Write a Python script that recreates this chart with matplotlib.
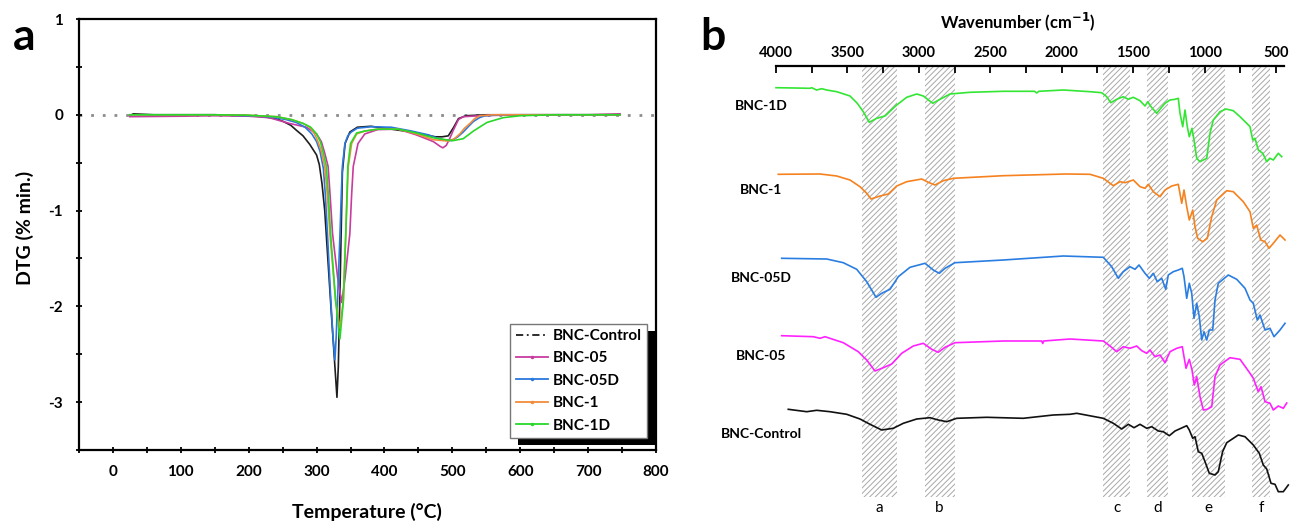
import matplotlib.pyplot as plt
from matplotlib.lines import Line2D
from matplotlib.patches import Rectangle
from matplotlib.ticker import MultipleLocator, FormatStrFormatter
from matplotlib.transforms import IdentityTransform

plt.rcParams['font.family'] = ['Lato', 'DejaVu Sans']
plt.rcParams['font.weight'] = 'bold'
plt.rcParams['axes.unicode_minus'] = False
plt.rcParams['hatch.linewidth'] = 0.7

# ---------------- DTG curves (panel a) ----------------
dtg_names = ['BNC-Control', 'BNC-05', 'BNC-05D', 'BNC-1', 'BNC-1D']
dtg_colors = ['#1e1e1e', '#c83c9e', '#2b78dc', '#f28c3c', '#2ad82a']

t_control = [25, 30, 60, 100, 150, 200, 221, 240, 251, 262, 270, 280, 290, 300, 304, 308,
             312, 317, 322, 327, 330, 332, 334, 336, 338, 342, 349, 360, 380, 410, 440, 460,
             475, 485, 494, 502, 509, 520, 550, 600, 650, 700, 747]
v_control = [-0.01, 0.01, 0.0, 0.0, 0.0, -0.01, -0.02, -0.04, -0.07, -0.11, -0.16, -0.22,
             -0.31, -0.42, -0.52, -0.72, -1.0, -1.55, -2.1, -2.63, -2.95, -2.63, -2.0, -1.3,
             -0.6, -0.3, -0.18, -0.13, -0.12, -0.15, -0.18, -0.21, -0.23, -0.23, -0.22, -0.13,
             -0.04, -0.01, 0.0, 0.0, 0.0, 0.0, 0.0]

t_05 = [25, 100, 150, 200, 230, 260, 285, 300, 307, 312, 317, 320, 323.5, 331, 337, 342, 349,
        351.5, 354, 361, 371, 390, 420, 447, 472, 482, 486, 491, 496, 501.5, 509, 516, 540,
        600, 700, 747]
v_05 = [-0.02, -0.015, -0.01, -0.015, -0.03, -0.09, -0.13, -0.2, -0.28, -0.4, -0.54, -0.85,
        -1.24, -1.7, -1.96, -1.7, -1.24, -0.85, -0.54, -0.3, -0.2, -0.155, -0.15, -0.21,
        -0.28, -0.33, -0.345, -0.32, -0.25, -0.16, -0.05, -0.02, -0.01, 0.0, 0.0, 0.01]

t_05d = [25, 100, 150, 200, 230, 255, 270, 283, 293, 300, 305, 310, 313, 316, 321, 324, 327,
         329, 331, 334.5, 336.3, 338, 341.7, 346, 351, 360, 380, 410, 440, 465, 480, 490, 499,
         508, 516, 524, 531, 540, 548, 570, 650, 747]
v_05d = [0.0, 0.0, 0.0, -0.01, -0.02, -0.05, -0.08, -0.13, -0.2, -0.28, -0.38, -0.56, -0.85,
         -1.24, -1.94, -2.3, -2.56, -2.3, -1.9, -1.24, -0.85, -0.54, -0.3, -0.22, -0.18,
         -0.14, -0.125, -0.13, -0.17, -0.21, -0.25, -0.265, -0.27, -0.23, -0.18, -0.12,
         -0.07, -0.03, -0.01, 0.0, 0.0, 0.0]

t_1 = [25, 100, 150, 200, 241, 263, 280, 290, 297, 302, 307, 312, 316, 319.6, 328, 334.4,
       339.3, 343, 345, 346.7, 351.6, 359, 371, 390, 420, 447, 472, 494, 503, 511, 518, 526,
       533, 541, 560, 650, 747]
v_1 = [0.0, 0.0, 0.0, -0.005, -0.02, -0.05, -0.09, -0.13, -0.2, -0.28, -0.38, -0.54, -0.85,
       -1.24, -1.94, -2.23, -1.94, -1.24, -0.85, -0.54, -0.3, -0.2, -0.17, -0.15, -0.15, -0.2,
       -0.26, -0.275, -0.25, -0.2, -0.14, -0.09, -0.04, -0.01, 0.0, 0.0, 0.0]

t_1d = [25, 100, 150, 200, 241, 263, 280, 291.4, 300, 305.5, 310, 314.4, 317.5, 320.6, 328,
        334.4, 339.5, 343, 344.7, 346, 350, 359, 371, 390, 420, 447, 472, 490, 501, 516, 531,
        551, 575, 600, 650, 747]
v_1d = [0.0, 0.0, 0.0, -0.005, -0.02, -0.05, -0.09, -0.13, -0.2, -0.28, -0.4, -0.54, -0.85,
        -1.24, -1.94, -2.34, -1.94, -1.24, -0.85, -0.54, -0.3, -0.19, -0.17, -0.15, -0.15,
        -0.19, -0.24, -0.26, -0.27, -0.25, -0.17, -0.08, -0.03, -0.01, 0.0, 0.0]

dtg_temps = [t_control, t_05, t_05d, t_1, t_1d]
dtg_values = [v_control, v_05, v_05d, v_1, v_1d]

# ---------------- FTIR spectra (panel b), stacked, a.u. ----------------
ir_names = ['BNC-1D', 'BNC-1', 'BNC-05D', 'BNC-05', 'BNC-Control']
ir_colors = ['#33e633', '#f5821f', '#2a7de1', '#ff22ff', '#111111']

wn_1d = [4000, 3870, 3762, 3750, 3716, 3680, 3645, 3575, 3482, 3431, 3389, 3347, 3295, 3237,
         3155, 3085, 3015, 2969, 2903, 2852, 2782, 2642, 2409, 2190, 2175, 2160, 1989, 1802,
         1720, 1685, 1657, 1615, 1569, 1534, 1499, 1452, 1417, 1398, 1375, 1335, 1307, 1277,
         1242, 1207, 1184, 1172, 1153, 1137, 1121, 1107, 1088, 1074, 1055, 1032, 1009, 985,
         962, 939, 892, 850, 799, 752, 705, 682, 663, 647, 624, 593, 565, 542, 519, 484, 460]
tr_1d = [412.3, 412, 411.7, 412.3, 410, 411.3, 410, 408.3, 404, 396.7, 388.3, 377.7, 381.7,
         384, 395, 402.7, 406, 404, 396.7, 400.7, 406, 407.7, 408.7, 408.7, 407, 408.7, 410,
         408.3, 407.3, 403.3, 397.3, 400.7, 403.3, 400.7, 402.7, 399.3, 394, 398.3, 393.3,
         386.7, 391.7, 396.7, 400, 400.7, 401.7, 386.7, 373.3, 390, 373.3, 363.3, 371.7, 360,
         341.7, 338.3, 340, 341.7, 366.7, 380, 388.3, 391, 389.3, 383.3, 376.7, 373.3, 360,
         361.7, 350, 346.7, 338.3, 341.7, 340, 346.7, 343.3]

wn_1 = [3984, 3692, 3575, 3482, 3412, 3365, 3335, 3272, 3214, 3155, 3085, 2980, 2934, 2887,
        2829, 2759, 2409, 1972, 1802, 1709, 1639, 1592, 1557, 1499, 1452, 1417, 1394, 1359,
        1312, 1277, 1230, 1184, 1160, 1144, 1125, 1107, 1083, 1067, 1048, 1013, 981, 950, 915,
        845, 799, 729, 682, 659, 635, 607, 577, 549, 519, 472, 437]
tr_1 = [325.7, 326, 324, 320, 313.3, 306.7, 301, 304, 306, 314, 318.3, 321, 317.7, 315,
        319.3, 321.7, 324.3, 326, 325.7, 321.7, 314.3, 318.3, 317.3, 320, 313.3, 311.7, 315.7,
        308.3, 303.3, 310, 314, 315.7, 296.7, 310, 293.3, 280, 290, 273.3, 261.7, 258.3,
        261.7, 283.3, 300, 309.3, 308.3, 298.3, 288.3, 271.7, 275, 260, 258.3, 251.7, 256.7,
        265, 260]

wn_05d = [3960, 3645, 3529, 3435, 3365, 3300, 3260, 3202, 3144, 3062, 2957, 2899, 2857, 2817,
          2747, 2409, 1989, 1709, 1650, 1604, 1569, 1522, 1487, 1459, 1417, 1387, 1359, 1331,
          1300, 1272, 1254, 1219, 1184, 1156, 1144, 1125, 1107, 1090, 1074, 1055, 1037, 1020,
          1004, 985, 967, 943, 927, 904, 834, 775, 717, 682, 659, 631, 612, 577, 542, 514,
          472, 437]
tr_05d = [241.7, 241, 237.3, 230.7, 218.3, 202.7, 206.7, 210.7, 223.3, 232.7, 236.7, 230,
          226.7, 231.7, 237.3, 240, 244, 242.7, 233.3, 221.7, 228.3, 233.3, 230.7, 235, 226.7,
          221.7, 226.7, 218.3, 221.7, 210.7, 225, 228.3, 230, 231.7, 223.3, 201.7, 216.7,
          206.7, 181.7, 196.7, 183.3, 160, 168.3, 160, 170, 170, 200, 216.7, 225, 220.7,
          211.7, 200, 196.7, 180, 185, 170, 171.7, 163.3, 170, 176.7]

wn_05 = [3960, 3739, 3692, 3657, 3529, 3424, 3365, 3307, 3249, 3190, 3120, 3039, 2969, 2910,
         2864, 2817, 2747, 2409, 2140, 2133, 2126, 1942, 1709, 1662, 1615, 1569, 1522, 1475,
         1440, 1405, 1382, 1347, 1312, 1277, 1242, 1195, 1156, 1130, 1107, 1088, 1072, 1055,
         1032, 1009, 981, 950, 927, 892, 822, 752, 682, 659, 624, 605, 577, 542, 519, 484,
         449, 425]
tr_05 = [164.3, 163.3, 161.7, 163.3, 157.3, 148.3, 140, 129, 132.3, 136, 146.7, 154, 156.7,
         150.7, 147.7, 152.7, 157.3, 159, 159, 156.5, 159, 161, 159, 154, 148.3, 153.3, 151.7,
         154, 149.3, 146.7, 150, 143.3, 145, 137.3, 148.3, 151.7, 153.3, 131.7, 140.7, 130,
         115, 123.3, 103.3, 90, 90.7, 93.3, 123.3, 135, 142.3, 140.7, 126.7, 121.7, 108.3,
         113.3, 98.3, 96.7, 90, 94, 91.7, 97]

wn_control = [3914, 3785, 3715, 3622, 3505, 3412, 3342, 3260, 3179, 3109, 3015, 2922, 2864,
              2805, 2735, 2525, 2269, 2059, 1942, 1895, 1709, 1639, 1580, 1534, 1494, 1452,
              1405, 1370, 1324, 1289, 1247, 1207, 1125, 1107, 1083, 1067, 1044, 1020, 997,
              967, 927, 904, 874, 845, 764, 717, 659, 617, 589, 565, 535, 507, 484, 449, 414]
tr_control = [90.7, 88.3, 89.7, 88.3, 85.7, 81, 75.7, 70, 71.7, 76.7, 81, 82.3, 80, 78.3,
              81.7, 82.7, 81.7, 85, 85.7, 86.7, 81.7, 76.7, 71, 75.7, 72.3, 75.7, 71.7, 73.3,
              69, 68.3, 64.3, 69, 74.3, 70, 61.7, 63.3, 48.3, 46.7, 38.3, 26.7, 25, 28.3, 48.3,
              57.3, 65, 63.3, 55, 46.7, 35, 31, 16.7, 15.7, 8.3, 8.3, 15]

ir_wavenumbers = [wn_1d, wn_1, wn_05d, wn_05, wn_control]
ir_transmittance = [tr_1d, tr_1, tr_05d, tr_05, tr_control]
ir_label_levels = [393.5, 309.5, 222, 143.5, 66]

band_letters = ['a', 'b', 'c', 'd', 'e', 'f']
band_ranges = [(3400, 3150), (2960, 2750), (1710, 1520), (1400, 1255), (1085, 855), (670, 540)]

W, H = 1293, 522
fig = plt.figure(figsize=(W / 100, H / 100), dpi=100)


def box(left, top, right, bottom):
    return [left / W, 1 - bottom / H, (right - left) / W, (bottom - top) / H]


# ---- panel a ----
ax = fig.add_axes(box(79, 19, 656, 450))
ax.axhline(0, color='#8c8c8c', lw=2, ls=(0, (1, 3.2)), zorder=1)
for t, v, c in zip(dtg_temps, dtg_values, dtg_colors):
    ax.plot(t, v, color=c, lw=1.2, zorder=2)

ax.set_xlim(-50, 800)
ax.set_ylim(-3.5, 1)
ax.xaxis.set_major_locator(MultipleLocator(100))
ax.xaxis.set_minor_locator(MultipleLocator(50))
ax.yaxis.set_major_locator(MultipleLocator(1))
ax.yaxis.set_minor_locator(MultipleLocator(0.5))
ax.yaxis.set_major_formatter(FormatStrFormatter('%d'))
ax.tick_params(which='both', direction='inout', length=5, width=1.3, labelsize=11)
ax.tick_params(axis='x', pad=8)
ax.tick_params(axis='y', pad=9)
for sp in ax.spines.values():
    sp.set_linewidth(1.6)

handles = []
for name, c in zip(dtg_names, dtg_colors):
    ls = (0, (4, 2, 1, 2)) if name == 'BNC-Control' else '-'
    handles.append(Line2D([], [], color=c, lw=1.3, ls=ls,
                          marker='.' if name != 'BNC-Control' else None, markersize=3))
leg = ax.legend(handles, dtg_names, loc='lower right', bbox_to_anchor=(0.984, 0.028),
                fancybox=False, edgecolor='#777777', framealpha=1,
                prop=dict(weight='bold', size=11), handlelength=2.1, handletextpad=0.3,
                borderpad=0.35, labelspacing=0.55, borderaxespad=0)
leg.get_frame().set_linewidth(1.0)

fig.text(367 / W, 1 - 512 / H, 'Temperature (°C)', fontsize=14, weight='bold',
         ha='center', va='center')
fig.text(25 / W, 1 - 228 / H, 'DTG (% min.)', fontsize=14, weight='bold',
         ha='center', va='center', rotation=90)
fig.text(13 / W, 1 - 50 / H, 'a', fontsize=32, weight='bold', ha='left', va='baseline')

# ---- panel b ----
axr = fig.add_axes(box(776, 66, 1290.3, 522))
axr.set_xlim(4000, 400)
axr.set_ylim(-22, 434)
for lo, hi in band_ranges:
    axr.axvspan(hi, lo, ymin=0.055, ymax=1, facecolor='none', edgecolor='#a8a8a8',
                lw=0, hatch='//////', zorder=0)
for (lo, hi), letter in zip(band_ranges, band_letters):
    axr.text((lo + hi) / 2, -8, letter, ha='center', va='center', fontsize=11,
             weight='normal')
for wn, tr, c in zip(ir_wavenumbers, ir_transmittance, ir_colors):
    axr.plot(wn, tr, color=c, lw=1.2, zorder=2, clip_on=False)
for name, lvl in zip(ir_names, ir_label_levels):
    axr.text(4105, lvl, name, ha='center', va='center', fontsize=10, weight='bold',
             clip_on=False)

for side in ['left', 'right', 'bottom']:
    axr.spines[side].set_visible(False)
axr.spines['top'].set_linewidth(1.6)
axr.spines['top'].set_bounds(447, 4000)
axr.xaxis.tick_top()
axr.xaxis.set_major_locator(MultipleLocator(500))
axr.xaxis.set_minor_locator(MultipleLocator(250))
axr.tick_params(which='both', direction='in', length=5, width=1.3, labelsize=10.5, pad=4)
axr.set_yticks([])
axr.patch.set_visible(False)

fig.text(1018 / W, 1 - 22 / H, 'Wavenumber (cm$^{\\mathbf{-1}}$)', fontsize=12,
         weight='bold', ha='center', va='center')
fig.text(700 / W, 1 - 50 / H, 'b', fontsize=32, weight='bold', ha='left', va='baseline')

# black drop shadow behind the legend box
fig.canvas.draw()
bb = leg.get_frame().get_window_extent()
ax.add_patch(Rectangle((bb.x0 + 8, bb.y0 - 7), bb.width, bb.height,
                       transform=IdentityTransform(), facecolor='black',
                       edgecolor='none', zorder=leg.get_zorder() - 0.1, clip_on=False))

fig.savefig('out.png', dpi=100)
